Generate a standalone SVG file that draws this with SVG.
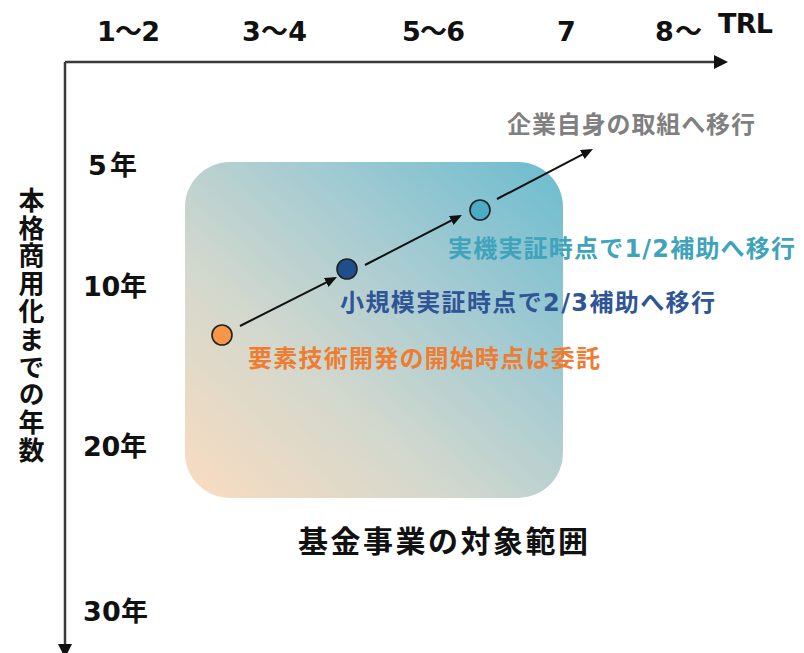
<svg xmlns="http://www.w3.org/2000/svg" width="804" height="653" viewBox="0 0 804 653">
  <style>
    text { font-family: "DejaVu Sans", "Noto Sans CJK JP", sans-serif; font-weight: bold; }
    .ax { font-size: 27px; fill: #111; }
    .yr { font-size: 27px; fill: #111; }
    .lbl { font-size: 24px; }
    .axis { stroke: #3a3a3a; stroke-width: 2.5; fill: none; }
    .conn { stroke: #111; stroke-width: 2; fill: none; }
    .dot { stroke: #222; stroke-width: 1.6; }
  </style>
  <defs>
    <linearGradient id="zone" x1="0" y1="1" x2="1" y2="0">
      <stop offset="0" stop-color="#fadcbf"/>
      <stop offset="0.35" stop-color="#d3d8cd"/>
      <stop offset="0.65" stop-color="#a5cbd2"/>
      <stop offset="1" stop-color="#6bbccf"/>
    </linearGradient>
    <marker id="axisHead" viewBox="0 0 14 14" markerWidth="14" markerHeight="14" markerUnits="userSpaceOnUse" refX="1" refY="7" orient="auto">
      <path d="M0,0 L14,7 L0,14 z" fill="#111"/>
    </marker>
    <marker id="arr" viewBox="0 0 12 10" markerWidth="12" markerHeight="10" markerUnits="userSpaceOnUse" refX="9" refY="5" orient="auto">
      <path d="M0,0 L12,5 L0,10 z" fill="#111"/>
    </marker>
  </defs>

  <rect width="804" height="653" fill="#ffffff"/>

  <g id="zone-area">
    <rect x="185" y="162" width="378" height="336" rx="45" ry="45" fill="url(#zone)"/>
    <text x="298" y="552" font-size="30" fill="#111" textLength="290" lengthAdjust="spacing">基金事業の対象範囲</text>
  </g>

  <g id="axes">
    <line class="axis" x1="65" y1="62" x2="715" y2="62" marker-end="url(#axisHead)"/>
    <line class="axis" x1="65" y1="62" x2="65" y2="645" marker-end="url(#axisHead)"/>
  </g>

  <g id="trl-labels">
    <text class="ax" x="97" y="41" textLength="63" lengthAdjust="spacing">1～2</text>
    <text class="ax" x="242" y="41" textLength="65" lengthAdjust="spacing">3～4</text>
    <text class="ax" x="402" y="41" textLength="63" lengthAdjust="spacing">5～6</text>
    <text class="ax" x="557" y="41">7</text>
    <text class="ax" x="655" y="41" textLength="47" lengthAdjust="spacing">8～</text>
    <text class="ax" x="718" y="33" textLength="55" lengthAdjust="spacing">TRL</text>
  </g>

  <g id="year-labels">
    <text class="yr" x="88" y="175" textLength="49" lengthAdjust="spacing">5年</text>
    <text class="yr" x="83" y="296" textLength="64" lengthAdjust="spacing">10年</text>
    <text class="yr" x="83" y="456" textLength="64" lengthAdjust="spacing">20年</text>
    <text class="yr" x="83" y="621" textLength="65" lengthAdjust="spacing">30年</text>
  </g>

  <g id="y-axis-title">
    <text x="29" y="187" font-size="26" fill="#111" style="writing-mode: vertical-rl; letter-spacing: 1.8px;">本格商用化までの年数</text>
  </g>

  <g id="connectors">
    <line class="conn" x1="240" y1="326" x2="334.3" y2="278.4" marker-end="url(#arr)"/>
    <line class="conn" x1="365" y1="265" x2="459.3" y2="216.4" marker-end="url(#arr)"/>
    <line class="conn" x1="497" y1="199" x2="590.3" y2="150.4" marker-end="url(#arr)"/>
  </g>

  <g id="node-element-tech">
    <circle class="dot" cx="222" cy="335" r="10" fill="#f79646"/>
    <text class="lbl" x="248" y="367" fill="#ee7d31" textLength="352" lengthAdjust="spacing">要素技術開発の開始時点は委託</text>
  </g>

  <g id="node-small-demo">
    <circle class="dot" cx="347" cy="269" r="10" fill="#1f4e8c"/>
    <text class="lbl" x="340" y="311" fill="#2f5597" textLength="375" lengthAdjust="spacing">小規模実証時点で2/3補助へ移行</text>
  </g>

  <g id="node-real-demo">
    <circle class="dot" cx="480" cy="210" r="10" fill="#4bacc6"/>
    <text class="lbl" x="448" y="257" fill="#3fa3bb" textLength="347" lengthAdjust="spacing">実機実証時点で1/2補助へ移行</text>
  </g>

  <g id="node-company">
    <text class="lbl" x="507" y="133" fill="#808080" textLength="248" lengthAdjust="spacing">企業自身の取組へ移行</text>
  </g>
</svg>
